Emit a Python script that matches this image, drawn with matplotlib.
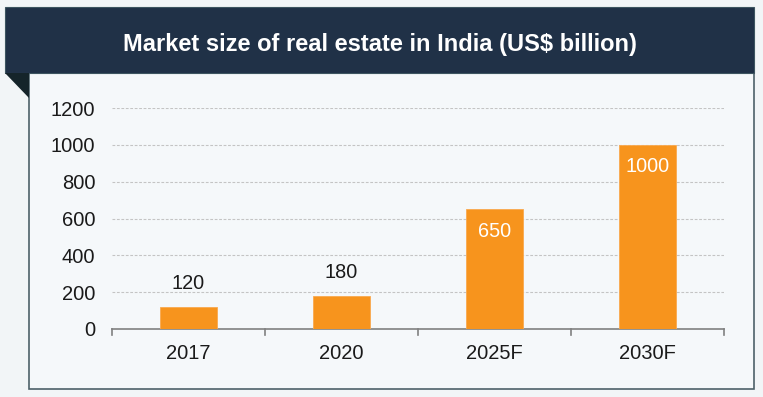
import matplotlib.pyplot as plt
from matplotlib.patches import Rectangle, Polygon

plt.rcParams['font.family'] = ['Liberation Sans', 'DejaVu Sans']

years = ['2017', '2020', '2025F', '2030F']
market_size = [120, 180, 650, 1000]
inside_label = [False, False, True, True]
y_ticks = [0, 200, 400, 600, 800, 1000, 1200]
title = 'Market size of real estate in India (US$ billion)'

W, H = 763, 397
fig = plt.figure(figsize=(W / 100, H / 100), dpi=100)
fig.patch.set_facecolor('#f2f5f7')

# frame, header band and folded corner (pixel coords -> figure fraction)
def box(x0, y0, x1, y1, **kw):
    fig.add_artist(Rectangle((x0 / W, 1 - y1 / H), (x1 - x0) / W, (y1 - y0) / H,
                             transform=fig.transFigure, zorder=-2, **kw))

box(29, 73, 754, 389, facecolor='#f5f8fa', edgecolor='#4d6169', lw=1.2)
box(5, 7, 754, 73, facecolor='#203147', edgecolor='#3d5560', lw=0.8)
fig.add_artist(Polygon([(5 / W, 1 - 73 / H), (29 / W, 1 - 73 / H), (29 / W, 1 - 98 / H)],
                       closed=True, transform=fig.transFigure, zorder=-1,
                       facecolor='#15242a', edgecolor='none'))
fig.text(380 / W, 1 - 44 / H, title, color='white', fontsize=17, fontweight='bold',
         ha='center', va='center')

ax = fig.add_axes([112 / W, 1 - 329 / H, (724 - 112) / W, (329 - 108) / H])
ax.set_facecolor('none')

x = range(len(years))
ax.bar(x, market_size, width=0.37, color='#f7941d', edgecolor='#f9a94f', lw=0.6, zorder=3)

for i, v in enumerate(market_size):
    if inside_label[i]:
        ax.annotate(str(v), (i, v), xytext=(0, -22), textcoords='offset pixels',
                    ha='center', va='center', color='white', fontsize=14.3, zorder=4)
    else:
        ax.annotate(str(v), (i, v), xytext=(0, 23), textcoords='offset pixels',
                    ha='center', va='center', color='#1a1a1a', fontsize=14.3, zorder=4)

ax.set_xlim(-0.5, len(years) - 0.5)
ax.set_ylim(0, 1200)
ax.set_yticks(y_ticks)
ax.set_yticklabels([str(t) for t in y_ticks], fontsize=14.5, color='#1a1a1a')
ax.set_xticks(list(x))
ax.set_xticklabels(years, fontsize=14.5, color='#1a1a1a')
ax.tick_params(axis='y', length=0, pad=12)
ax.tick_params(axis='x', length=0, pad=11)

# category boundary ticks on the x axis
for b in [i - 0.5 for i in range(len(years) + 1)]:
    ax.plot([b, b], [0, -0.028], transform=ax.get_xaxis_transform(), color='#808080',
            lw=1.2, clip_on=False, zorder=2)

for t in y_ticks[1:]:
    ax.axhline(t, color='#c4c4c4', lw=0.8, ls=(0, (2.5, 1.5)), zorder=1)

for s in ['left', 'right', 'top']:
    ax.spines[s].set_visible(False)
ax.spines['bottom'].set_color('#808080')
ax.spines['bottom'].set_linewidth(1.2)

fig.savefig('out.png', dpi=100, facecolor=fig.get_facecolor())
